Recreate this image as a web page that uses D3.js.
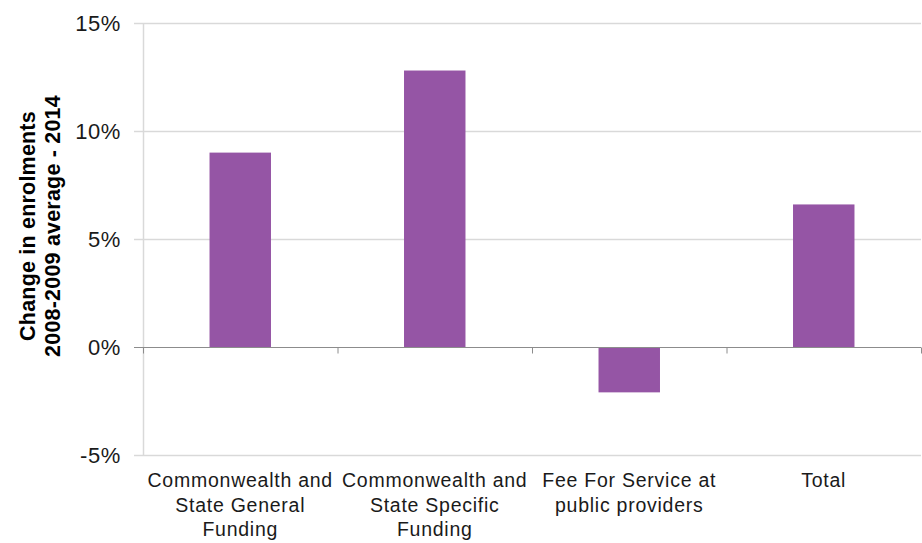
<!DOCTYPE html>
<html><head><meta charset="utf-8">
<script src="https://cdn.jsdelivr.net/npm/d3@7"></script>
<style>body{margin:0;background:#fff}svg{display:block}</style>
</head><body>
<svg id="c" width="922" height="543"></svg>
<script>
const categories = [
  ["Commonwealth and", "State General", "Funding"],
  ["Commonwealth and", "State Specific", "Funding"],
  ["Fee For Service at", "public providers"],
  ["Total"]
];
const values = [0.090, 0.128, -0.021, 0.066];
const yTicks = [-0.05, 0, 0.05, 0.10, 0.15];
const yTitle = ["Change in enrolments", "2008-2009 average - 2014"];

(function () {
const svg = d3.select("#c");
const pL = 143, pR = 921, pT = 23, pB = 455;
const x = d3.scaleBand().domain(d3.range(categories.length)).range([pL, pR]).padding(0);
const y = d3.scaleLinear().domain([-0.05, 0.15]).range([pB, pT]);
const barW = x.bandwidth() * 0.316;
const font = "'Liberation Sans', Arial, sans-serif";
const fmt = d => d3.format(".0%")(d).replace("\u2212", "-");

// gridlines
svg.append("g").selectAll("line").data(yTicks.filter(d => d !== 0)).join("line")
  .attr("x1", pL - 9).attr("x2", pR)
  .attr("y1", d => Math.round(y(d)) + 0.5).attr("y2", d => Math.round(y(d)) + 0.5)
  .attr("stroke", "#d9d9d9").attr("stroke-width", 1.5);
// y axis line
svg.append("line").attr("x1", pL + 0.5).attr("x2", pL + 0.5)
  .attr("y1", pT).attr("y2", pB).attr("stroke", "#d9d9d9").attr("stroke-width", 1.5);

// bars
svg.append("g").selectAll("rect").data(values).join("rect")
  .attr("x", (d, i) => x(i) + x.bandwidth() / 2 - barW / 2)
  .attr("width", barW)
  .attr("y", d => y(Math.max(0, d)))
  .attr("height", d => Math.abs(y(d) - y(0)))
  .attr("fill", "#9555a5");

// zero line with category ticks
const y0 = Math.round(y(0)) + 0.5;
svg.append("line").attr("x1", pL - 9).attr("x2", pR).attr("y1", y0).attr("y2", y0)
  .attr("stroke", "#8c8c8c").attr("stroke-width", 1.2);
svg.append("g").selectAll("line").data(d3.range(categories.length + 1)).join("line")
  .attr("x1", i => (i < categories.length ? x(i) : pR) + 0.5)
  .attr("x2", i => (i < categories.length ? x(i) : pR) + 0.5)
  .attr("y1", y0).attr("y2", y0 + 6)
  .attr("stroke", "#8c8c8c").attr("stroke-width", 1);

// y tick labels
svg.append("g").selectAll("text").data(yTicks).join("text")
  .attr("x", 121).attr("y", d => y(d) + 8)
  .attr("text-anchor", "end").attr("font-family", font).attr("font-size", 22)
  .attr("letter-spacing", 0.6)
  .attr("fill", "#1a1a1a")
  .text(fmt);

// category labels
const cat = svg.append("g").selectAll("text").data(categories).join("text")
  .attr("text-anchor", "middle").attr("font-family", font).attr("font-size", 19.5)
  .attr("letter-spacing", 0.75)
  .attr("fill", "#1a1a1a");
cat.each(function (lines, i) {
  d3.select(this).selectAll("tspan").data(lines).join("tspan")
    .attr("x", x(i) + x.bandwidth() / 2)
    .attr("y", (d, j) => 487 + j * 24.5)
    .text(d => d);
});

// y title
const t = svg.append("text")
  .attr("transform", "translate(0,226) rotate(-90)")
  .attr("text-anchor", "middle").attr("font-family", font).attr("font-size", 21.5)
  .attr("letter-spacing", 0.2)
  .attr("font-weight", "bold").attr("fill", "#000");
t.selectAll("tspan").data(yTitle).join("tspan")
  .attr("x", 0).attr("y", (d, j) => 35 + j * 24.5).text(d => d);
})();
</script>
</body></html>
